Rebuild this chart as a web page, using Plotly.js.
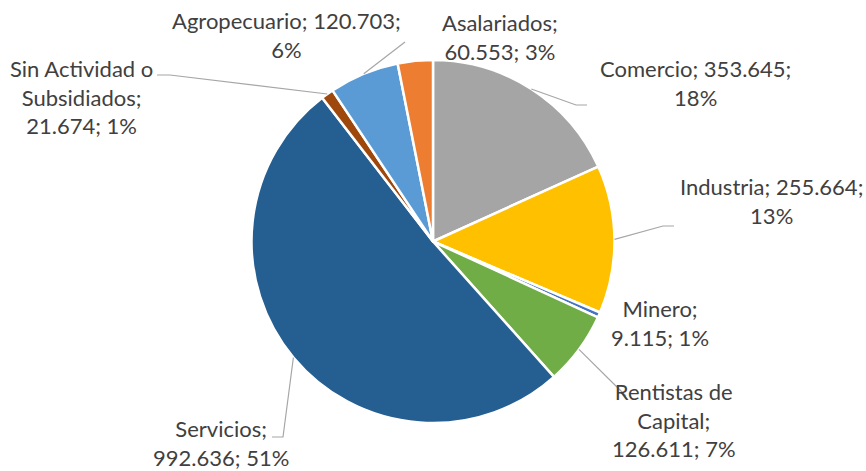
<!DOCTYPE html>
<html>
<head>
<meta charset="utf-8">
<script src="https://cdn.plot.ly/plotly-3.0.1.min.js"></script>
<style>
html,body{margin:0;padding:0;background:#fff;}
#chart{width:866px;height:471px;}
</style>
</head>
<body>
<div id="chart"></div>
<script>
// ---- data ----
var categories = ["Comercio", "Industria", "Minero", "Rentistas de Capital", "Servicios", "Sin Actividad o Subsidiados", "Agropecuario", "Asalariados"];
var values = [353645, 255664, 9115, 126611, 992636, 21674, 120703, 60553];
var pctLabels = ["18%", "13%", "1%", "7%", "51%", "1%", "6%", "3%"];
var colors = ["#A5A5A5", "#FFC000", "#4472C4", "#70AD47", "#255E91", "#9E480E", "#5B9BD5", "#ED7D31"];

// ---- label layout (pixels): text centre, how lines break, leader elbow/end ----
var W = 866, H = 471;
var cx = 433, cy = 241.5, R = 181.5;
var labelLayout = [
  {text: "Comercio; {v};<br>{p}", x: 695, y: 83, line: [[576,105],[587,105]]},
  {text: "Industria; {v};<br>{p}", x: 771, y: 201, line: [[663,226],[674,226]]},
  {text: "Minero;<br>{v}; {p}", x: 660, y: 323, line: null},
  {text: "Rentistas de<br>Capital;<br>{v}; {p}", x: 674, y: 420, line: [[626,396]]},
  {text: "Servicios;<br>{v}; {p}", x: 221, y: 443, line: [[283,437],[272,437]]},
  {text: "Sin Actividad o<br>Subsidiados;<br>{v}; {p}", x: 81, y: 97, line: [[170,75],[157,75]]},
  {text: "Agropecuario; {v};<br>{p}", x: 286, y: 35, line: [[405,42]]},
  {text: "Asalariados;<br>{v}; {p}", x: 500, y: 37, line: null}
];

function fmt(n){ return String(n).replace(/\B(?=(\d{3})+(?!\d))/g, "."); }
function px(x){ return x / W; }
function py(y){ return 1 - y / H; }

var total = values.reduce(function(a,b){return a+b;}, 0);
var annotations = [], shapes = [];
var cum = 0;
for (var i = 0; i < values.length; i++) {
  var frac = values[i] / total;
  var mid = cum + frac / 2;
  cum += frac;
  var L = labelLayout[i];
  annotations.push({
    xref: "paper", yref: "paper", x: px(L.x), y: py(L.y),
    xanchor: "center", yanchor: "middle", align: "center", showarrow: false,
    text: L.text.replace("{v}", fmt(values[i])).replace("{p}", pctLabels[i]),
    font: {family: "Lato, 'Noto Sans', sans-serif", size: 22, color: "#404040"}
  });
  if (L.line) {
    var th = 2 * Math.PI * mid;
    var pts = [[cx + R * Math.sin(th), cy - R * Math.cos(th)]].concat(L.line);
    var path = "M" + pts.map(function(p){ return px(p[0]) + "," + py(p[1]); }).join(" L");
    shapes.push({type: "path", xref: "paper", yref: "paper", path: path,
      line: {color: "#A6A6A6", width: 1.2}});
  }
}

var trace = {
  type: "pie",
  labels: categories,
  values: values,
  sort: false,
  direction: "clockwise",
  rotation: 0,
  textinfo: "none",
  marker: {colors: colors, line: {color: "#FFFFFF", width: 2.5}},
  domain: {x: [px(cx - R), px(cx + R)], y: [py(cy + R), py(cy - R)]},
  hoverinfo: "label+value+percent"
};

var layout = {
  width: W, height: H,
  margin: {l: 0, r: 0, t: 0, b: 0},
  paper_bgcolor: "#FFFFFF",
  showlegend: false,
  annotations: annotations,
  shapes: shapes
};

Plotly.newPlot("chart", [trace], layout, {displayModeBar: false, staticPlot: true});
</script>
</body>
</html>
